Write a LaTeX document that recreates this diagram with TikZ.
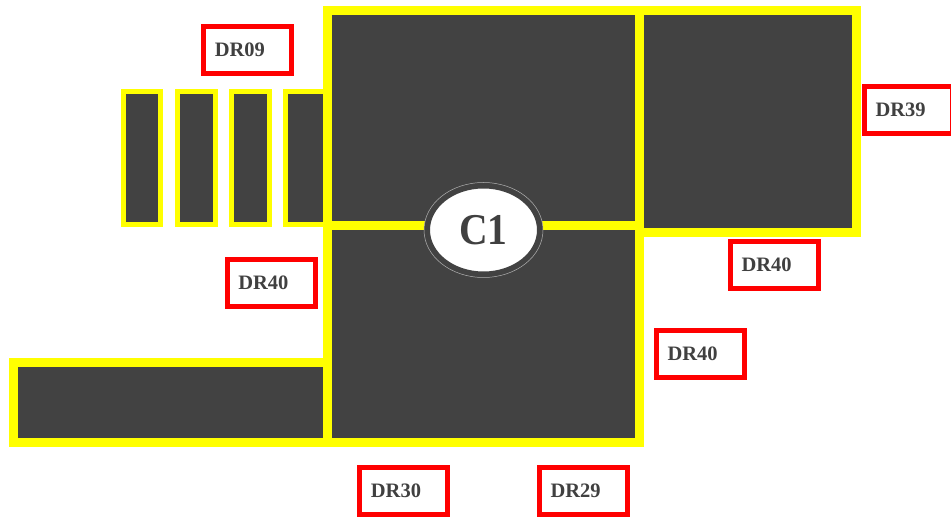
\documentclass[tikz,border=0pt]{standalone}
\usepackage{fontspec}
\setmainfont{Liberation Serif}
\usetikzlibrary{shapes.geometric}
\definecolor{yel}{HTML}{FFFF00}
\definecolor{dk}{HTML}{424242}
\definecolor{txt}{HTML}{404040}
\definecolor{rd}{HTML}{FF0000}
\tikzset{
  room/.style={draw=yel, fill=dk, line width=9pt},
  slot/.style={draw=yel, fill=dk, line width=5pt},
  tag/.style={draw=rd, fill=white, line width=5pt, minimum width=88pt, minimum height=47pt,
    text width=66pt, align=left, inner xsep=11pt, inner ysep=0pt, text=txt,
    font=\fontsize{20.5}{22}\selectfont\bfseries},
  hub/.style={ellipse, draw=dk, fill=white, line width=6pt, minimum width=113pt, minimum height=89pt,
    inner sep=0pt, text=txt, font=\fontsize{44}{46}\selectfont\bfseries}
}
\begin{document}
\begin{tikzpicture}[x=1pt,y=-1pt]
\useasboundingbox (0,0) rectangle (951,518);
% small slots
\draw[slot] (123.5,91.5) rectangle (160.5,224.5);
\draw[slot] (177.5,91.5) rectangle (215.5,224.5);
\draw[slot] (231.5,91.5) rectangle (269.5,224.5);
\draw[slot] (285.5,91.5) rectangle (327,224.5);
% rooms
\draw[room] (13.3,362.5) rectangle (327.2,442.2);
\draw[room] (639.5,10.5) rectangle (856,232.3);
\draw[room] (327.2,10.5) rectangle (639.5,226);
\draw[room] (327.2,226) rectangle (639.5,442.2);
% hub
\node[hub] (c1) at (483.5,230) {\raisebox{-1pt}{\scalebox{0.9}[1]{C1}}};
\draw[gray!60, line width=0.5pt] (c1.center) ellipse [x radius=59.5pt, y radius=47.5pt];
% tags
\node[tag] (dr09) at (247.8,50) {\raisebox{1.5pt}{DR09}};
\node[tag] (dr39) at (908.5,110) {\raisebox{1.5pt}{DR39}};
\node[tag] (dr40a) at (774.5,265) {\raisebox{1.5pt}{DR40}};
\node[tag] (dr40b) at (271.3,283) {\raisebox{1.5pt}{DR40}};
\node[tag] (dr40c) at (700.5,354.3) {\raisebox{1.5pt}{DR40}};
\node[tag] (dr30) at (403.9,491) {\raisebox{1.5pt}{DR30}};
\node[tag] (dr29) at (583.5,491) {\raisebox{1.5pt}{DR29}};
\end{tikzpicture}
\end{document}
